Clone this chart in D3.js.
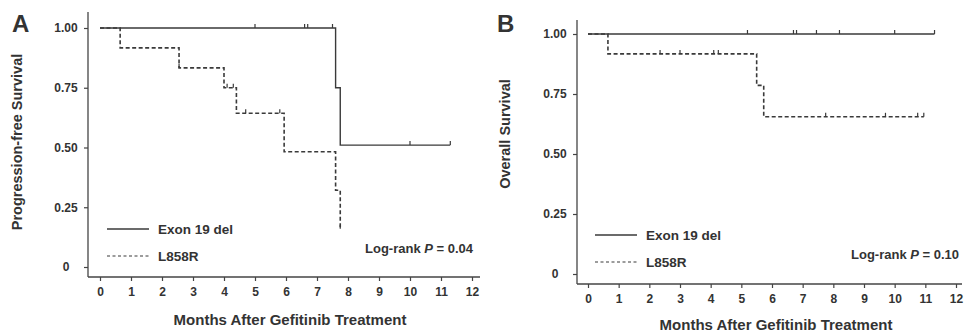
<!DOCTYPE html>
<html>
<head>
<meta charset="utf-8">
<script src="https://cdn.jsdelivr.net/npm/d3@7"></script>
<style>
  body { margin: 0; background: #fff; }
  svg text { font-family: "Liberation Sans", Arial, sans-serif; font-weight: bold; fill: #333; }
</style>
</head>
<body>
<div id="chart"></div>
<script>
// ticks
var monthTicks = [0, 1, 2, 3, 4, 5, 6, 7, 8, 9, 10, 11, 12];
var survTicks = [0, 0.25, 0.5, 0.75, 1];
var seriesNames = ["Exon 19 del", "L858R"];

// Panel A: progression-free survival (step points: time, survival after step)
var pfsExonTimes = [0, 7.6, 7.75, 11.3];
var pfsExonSurv = [1, 0.75, 0.51, 0.51];
var pfsExonCensor = [5.0, 6.6, 6.7, 7.5, 10.0, 11.3];

var pfsL858Times = [0, 0.65, 2.55, 4.0, 4.4, 5.94, 7.6, 7.75];
var pfsL858Surv = [1, 0.917, 0.833, 0.75, 0.643, 0.482, 0.321, 0.16];
var pfsL858Censor = [2.55, 4.1, 4.3, 4.7, 5.8, 7.75];

// Panel B: overall survival
var osExonTimes = [0, 11.3];
var osExonSurv = [1, 1];
var osExonCensor = [5.2, 6.7, 6.8, 7.45, 8.2, 10.0, 11.3];

var osL858Times = [0, 0.65, 5.5, 5.73, 10.95];
var osL858Surv = [1, 0.917, 0.786, 0.655, 0.655];
var osL858Censor = [2.35, 3.0, 4.1, 4.25, 7.75, 9.7, 10.75, 10.95];

var svg = d3.select("#chart").append("svg")
   .attr("width", 966)
   .attr("height", 333);

function zip(times, surv) {
   return times.map(function (t, i) { return { x: t, y: surv[i] }; });
}

// survival at time t from a step series
function survAt(times, surv, t) {
   var v = surv[0];
   for (var i = 0; i < times.length; i++) {
      if (times[i] <= t) v = surv[i];
   }
   return v;
}

function drawPanel(p) {
   var x = d3.scaleLinear().domain([0, 12]).range(p.xRange);
   var y = d3.scaleLinear().domain([0, 1]).range(p.yRange);
   var g = svg.append("g");

   // axis lines
   g.append("line")
      .attr("x1", p.axisX).attr("x2", p.axisX)
      .attr("y1", p.axisTop).attr("y2", p.axisY)
      .style("stroke", "#444").style("stroke-width", 1.3);
   g.append("line")
      .attr("x1", p.axisX).attr("x2", p.axisRight)
      .attr("y1", p.axisY).attr("y2", p.axisY)
      .style("stroke", "#444").style("stroke-width", 1.3);

   var yAxis = d3.axisLeft(y)
      .tickValues(survTicks)
      .tickSize(4)
      .tickPadding(6)
      .tickFormat(function (d) { return d === 0 ? "0" : d3.format(".2f")(d); });
   var gy = g.append("g")
      .attr("transform", "translate(" + p.axisX + ",0)")
      .call(yAxis);
   gy.select(".domain").remove();
   // labels are centred in their column
   gy.selectAll(".tick text")
      .attr("x", -22)
      .attr("text-anchor", "middle");

   var xAxis = d3.axisBottom(x)
      .tickValues(monthTicks)
      .tickSize(4)
      .tickPadding(6);
   var gx = g.append("g")
      .attr("transform", "translate(0," + p.axisY + ")")
      .call(xAxis);
   gx.select(".domain").remove();

   g.selectAll(".tick line").style("stroke", "#444").style("stroke-width", 1.2);
   g.selectAll(".tick text").style("font-size", "12px")
      .style("font-family", "'Liberation Sans', Arial, sans-serif").style("font-weight", "bold").style("fill", "#333");

   var stepLine = d3.line()
      .x(function (d) { return x(d.x); })
      .y(function (d) { return y(d.y); })
      .curve(d3.curveStepAfter);

   p.series.forEach(function (s) {
      g.append("path")
         .datum(zip(s.times, s.surv))
         .attr("d", stepLine)
         .style("fill", "none")
         .style("stroke", "#3a3a3a")
         .style("stroke-width", s.dashed ? 1.6 : 1.4)
         .style("stroke-dasharray", s.dashed ? "4,2.5" : null);

      g.selectAll(null)
         .data(s.censor)
         .enter().append("line")
         .attr("x1", function (d) { return x(d); })
         .attr("x2", function (d) { return x(d); })
         .attr("y1", function (d) { return y(survAt(s.times, s.surv, d)); })
         .attr("y2", function (d) { return y(survAt(s.times, s.surv, d)) - 4; })
         .style("stroke", "#3a3a3a")
         .style("stroke-width", 1.2);
   });

   // legend
   seriesNames.forEach(function (name, i) {
      var ly = p.legendY + i * 27;
      g.append("line")
         .attr("x1", p.legendX).attr("x2", p.legendX + 42)
         .attr("y1", ly).attr("y2", ly)
         .style("stroke", "#3a3a3a")
         .style("stroke-width", i ? 1.2 : 1.4)
         .style("stroke-dasharray", i ? "3,2.5" : null);
      g.append("text")
         .attr("x", p.legendX + 51).attr("y", ly + 5)
         .style("font-size", "13.5px")
         .text(name);
   });

   // log-rank
   var lr = g.append("text")
      .attr("x", p.pX).attr("y", p.pY)
      .style("font-size", "13px");
   lr.append("tspan").text("Log-rank ");
   lr.append("tspan").style("font-style", "italic").text("P");
   lr.append("tspan").text(" = " + p.pValue);

   // panel letter
   g.append("text")
      .attr("x", p.letterX).attr("y", p.letterY)
      .style("font-size", "24px")
      .text(p.letter);

   // axis titles
   g.append("text")
      .attr("x", (p.xRange[0] + p.xRange[1]) / 2 + 4)
      .attr("y", p.xTitleY)
      .attr("text-anchor", "middle")
      .style("font-size", "15px")
      .text("Months After Gefitinib Treatment");

   g.append("text")
      .attr("transform", "translate(" + p.yTitleX + "," + p.yTitleMid + ") rotate(-90)")
      .attr("text-anchor", "middle")
      .style("font-size", "14.5px")
      .text(p.yTitle);
}

drawPanel({
   letter: "A", letterX: 12, letterY: 32,
   xRange: [100, 472], yRange: [267, 28],
   axisX: 88, axisY: 277, axisTop: 12, axisRight: 480,
   legendX: 107, legendY: 229,
   pX: 365, pY: 253, pValue: "0.04",
   xTitleY: 325, yTitleX: 22, yTitleMid: 142,
   yTitle: "Progression-free Survival",
   series: [
      { times: pfsExonTimes, surv: pfsExonSurv, censor: pfsExonCensor, dashed: false },
      { times: pfsL858Times, surv: pfsL858Surv, censor: pfsL858Censor, dashed: true }
   ]
});

drawPanel({
   letter: "B", letterX: 497, letterY: 32,
   xRange: [588, 956], yRange: [274, 34],
   axisX: 577, axisY: 284, axisTop: 20, axisRight: 962,
   legendX: 595, legendY: 235,
   pX: 851, pY: 259, pValue: "0.10",
   xTitleY: 330, yTitleX: 510, yTitleMid: 134,
   yTitle: "Overall Survival",
   series: [
      { times: osExonTimes, surv: osExonSurv, censor: osExonCensor, dashed: false },
      { times: osL858Times, surv: osL858Surv, censor: osL858Censor, dashed: true }
   ]
});
</script>
</body>
</html>
